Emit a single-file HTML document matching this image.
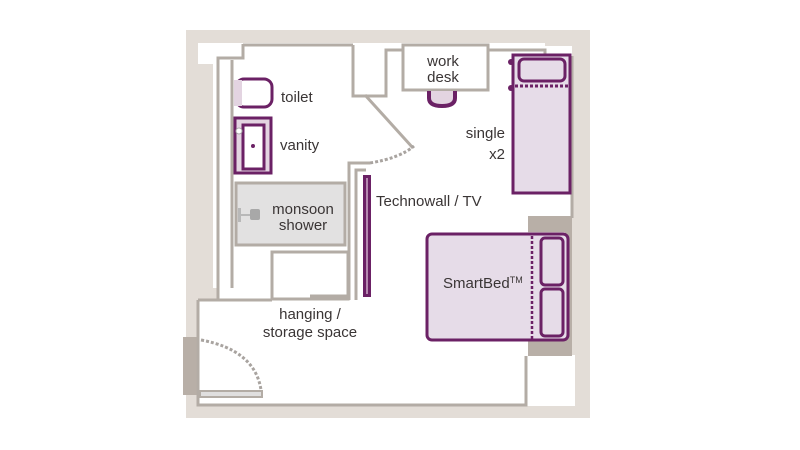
<!DOCTYPE html>
<html><head><meta charset="utf-8"><style>
html,body{margin:0;padding:0;background:#fff;width:800px;height:450px;overflow:hidden}
text{font-family:"Liberation Sans",sans-serif;font-size:15px;fill:#3a3535}
</style></head><body>
<svg width="800" height="450" viewBox="0 0 800 450" xmlns="http://www.w3.org/2000/svg">
<rect x="186" y="30" width="404" height="388" fill="#e3ddd7"/>
<path d="M198 43 L545 43 L545 53 L572 53 L572 355 L527 355 L527 405 L575 405 L575 355 L572 355 L572 53 L545 53 Z" fill="#fff"/>
<rect x="198" y="43" width="45" height="21" fill="#fff"/>
<path d="M218 46 L572 46 L572 218 L528 218 L528 356 L525 356 L525 405 L198 405 L198 300 L218 300 Z" fill="#fff"/>
<rect x="527" y="356" width="48" height="50" fill="#fff"/>
<rect x="213" y="60" width="5" height="228" fill="#fff"/>
<rect x="528" y="216" width="44" height="16" fill="#b8afa7"/>
<rect x="528" y="336" width="44" height="20" fill="#b8afa7"/>
<rect x="565" y="230" width="7" height="110" fill="#b8afa7"/>
<rect x="183" y="337" width="14" height="58" fill="#b8afa7"/>
<g fill="none" stroke="#b3aca5" stroke-width="3">
<path d="M243 44 L243 58 L218 58 L218 300"/>
<path d="M243 45 L353 45"/>
<path d="M232 60 L232 288"/>
<path d="M353 45 L353 96 L386 96 L386 50 L403 50"/>
<rect x="403" y="45" width="85" height="45"/>
<path d="M488 50 L545 50 L545 56"/>
<path d="M572 56 L572 218"/>
<path d="M198 300 L272 300 M198 300 L198 405 L526 405 L526 356"/>
<path d="M349 300 L349 163 L370 163"/>
<path d="M356 300 L356 170 L366 170"/>
<rect x="272" y="252" width="76" height="47"/>
<path d="M310 296 L348 296"/>
<path d="M365 95 L413 148"/>
<rect x="200" y="391" width="62" height="6" stroke-width="2" fill="#e0dfdf"/>
</g>
<path d="M370 163 Q400 158 414 146" fill="none" stroke="#a9a4a0" stroke-width="3" stroke-dasharray="3,2"/>
<path d="M201 340 Q255 350 261 390" fill="none" stroke="#a9a4a0" stroke-width="3" stroke-dasharray="3,2"/>
<rect x="236" y="183" width="109" height="62" fill="#e2e1e1" stroke="#b3aca5" stroke-width="3"/>
<rect x="238" y="208" width="3" height="14" fill="#b8b8b8"/>
<rect x="240" y="214" width="10" height="2" fill="#b8b8b8"/>
<rect x="250" y="209" width="10" height="11" rx="2" fill="#a8a8a8"/>
<rect x="236" y="79" width="36" height="28" rx="8" fill="#fff" stroke="#6b2165" stroke-width="3"/>
<rect x="234" y="80" width="8" height="26" fill="#e3d4e1"/>
<rect x="235" y="118" width="36" height="55" fill="#e3d4e1" stroke="#6b2165" stroke-width="3"/>
<rect x="243" y="125" width="21" height="44" fill="#fff" stroke="#6b2165" stroke-width="3"/>
<circle cx="253" cy="146" r="2" fill="#6b2165"/>
<circle cx="239" cy="131" r="3" fill="#fff" stroke="#aaa"/>
<rect x="363" y="175" width="8" height="122" fill="#6b2165"/>
<rect x="366" y="178" width="2" height="116" fill="#b58ab0"/>
<path d="M429 91 L429 98 Q429 106 442 106 Q455 106 455 98 L455 91" fill="#e3d4e1" stroke="#6b2165" stroke-width="4"/>
<rect x="513" y="55" width="57" height="138" fill="#e6dce8" stroke="#6b2165" stroke-width="3"/>
<rect x="519" y="59" width="46" height="22" rx="5" fill="#e6dce8" stroke="#6b2165" stroke-width="3"/>
<line x1="515" y1="86" x2="569" y2="86" stroke="#6b2165" stroke-width="3" stroke-dasharray="3,2"/>
<circle cx="511" cy="62" r="3" fill="#6b2165"/><circle cx="511" cy="88" r="3" fill="#6b2165"/>
<rect x="427" y="234" width="141" height="106" rx="5" fill="#e6dce8" stroke="#6b2165" stroke-width="3"/>
<line x1="532" y1="236" x2="532" y2="339" stroke="#6b2165" stroke-width="2.5" stroke-dasharray="3,2"/>
<rect x="541" y="238" width="22" height="47" rx="4" fill="#e6dce8" stroke="#6b2165" stroke-width="3"/>
<rect x="541" y="289" width="22" height="47" rx="4" fill="#e6dce8" stroke="#6b2165" stroke-width="3"/>
<text x="281" y="102">toilet</text>
<text x="280" y="150">vanity</text>
<text x="303" y="214" text-anchor="middle">monsoon</text>
<text x="303" y="230" text-anchor="middle">shower</text>
<text x="443" y="66" text-anchor="middle">work</text>
<text x="443" y="82" text-anchor="middle">desk</text>
<text x="505" y="138" text-anchor="end">single</text>
<text x="505" y="159" text-anchor="end">x2</text>
<text x="376" y="206">Technowall / TV</text>
<text x="443" y="288">SmartBed<tspan font-size="9" dy="-5">TM</tspan></text>
<text x="310" y="319" text-anchor="middle">hanging /</text>
<text x="310" y="337" text-anchor="middle">storage space</text>
</svg>
</body></html>
